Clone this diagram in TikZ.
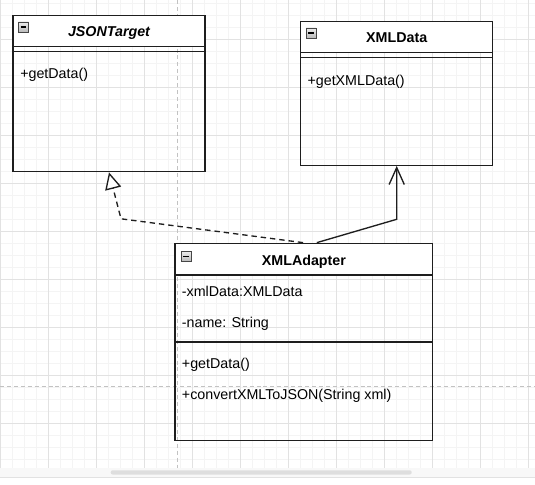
\documentclass[tikz,border=0pt]{standalone}
\usepackage{fontspec}
\setmainfont{Liberation Sans}
\usetikzlibrary{calc,arrows.meta}
\definecolor{gridminor}{HTML}{F4F4F4}
\definecolor{gridmajor}{HTML}{E2E2E2}
\definecolor{pageline}{HTML}{C2C2C2}
\definecolor{umlline}{HTML}{1E1E1E}
\definecolor{scrollbg}{HTML}{F8F8F8}
\definecolor{scrollthumb}{HTML}{DEDEDE}
\tikzset{
  umlbox/.style={draw=umlline, line width=1pt, inner sep=0pt, fill=none},
  sepline/.style={draw=umlline, line width=1pt},
  txt/.style={inner sep=0pt, anchor=base west, text=black},
  ttl/.style={inner sep=0pt, anchor=base, text=black, font=\fontsize{10.7}{12.8}\selectfont\bfseries},
  conn/.style={draw=umlline, line width=1pt},
  icon/.style={draw=gray!55!black, line width=0.5pt, top color=gray!15, bottom color=gray!55}
}
\begin{document}
\begin{tikzpicture}[x=0.75pt, y=-0.75pt, font=\fontsize{10.7}{12.8}\selectfont]
\useasboundingbox (0,0) rectangle (535,485);
\fill[white] (0,0) rectangle (535,485);
% grid
\foreach \k in {0,...,44} {
  \pgfmathsetmacro\gx{0.7+12*\k}
  \draw[gridminor, line width=0.75pt] (\gx,0) -- (\gx,468);
}
\foreach \k in {0,...,38} {
  \pgfmathsetmacro\gy{3.3+12*\k}
  \draw[gridminor, line width=0.75pt] (0,\gy) -- (535,\gy);
}
\foreach \k in {0,...,11} {
  \pgfmathsetmacro\gx{0.7+48*\k}
  \draw[gridmajor, line width=0.75pt] (\gx,0) -- (\gx,468);
}
\foreach \k in {0,...,9} {
  \pgfmathsetmacro\gy{39.3+48*\k}
  \draw[gridmajor, line width=0.75pt] (0,\gy) -- (535,\gy);
}
% page break lines
\draw[pageline, line width=0.75pt, dash pattern=on 3pt off 2.2pt] (177.6,0) -- (177.6,468);
\draw[pageline, line width=0.75pt, dash pattern=on 3pt off 2.2pt] (0,386) -- (535,386);
% scrollbar
\fill[scrollbg] (0,468) rectangle (535,477.2);
\fill[scrollthumb, rounded corners=1.5pt] (110.7,470.3) rectangle (411.7,474.5);
\draw[gridmajor, line width=0.75pt] (0,477.7) -- (535,477.7);

% header fills
\fill[white] (13,15.3) rectangle (205,46.7);
\fill[white] (300.7,21.7) rectangle (492.7,52.3);
\fill[white] (175,243.3) rectangle (432.7,275);

% boxes
\node[umlbox, minimum width=144pt, minimum height=117.3pt] (jsontarget) at (109,93.5) {};
\node[umlbox, minimum width=144pt, minimum height=107.7pt] (xmldata) at (396.7,93.5) {};
\node[umlbox, minimum width=193.3pt, minimum height=147.75pt] (adapter) at (303.85,341.8) {};

% separators
\draw[sepline] (13,46.7) -- (205,46.7);
\draw[sepline] (13,51.7) -- (205,51.7);
\draw[sepline] (300.7,52.3) -- (492.7,52.3);
\draw[sepline] (300.7,57.3) -- (492.7,57.3);
\draw[sepline] (175,275) -- (432.7,275);
\draw[sepline] (175,342) -- (432.7,342);

% icons
\foreach \ix/\iy in {18.5/22, 306/28, 181/251.5} {
  \draw[icon] (\ix,\iy) rectangle ++(10,10);
  \draw[black, line width=1.2pt] (\ix+2.2,\iy+5) -- (\ix+7.8,\iy+5);
}

% titles
\node[ttl, font=\fontsize{10.7}{12.8}\selectfont\bfseries\itshape] (jtTitle) at (109,36.8) {JSONTarget};
\node[ttl] (xdTitle) at (396.7,43) {XMLData};
\node[ttl] (adTitle) at (303.9,265.2) {XMLAdapter};

% members
\node[txt] (jtM1) at (20,78.8) {+getData()};
\node[txt] (xdM1) at (307.3,85.6) {+getXMLData()};
\node[txt] (adA1) at (181.7,296.5) {-xmlData:XMLData};
\node[txt] (adA2) at (181.7,327.5) {-name: String};
\node[txt] (adM1) at (181.7,368) {+getData()};
\node[txt] (adM2) at (181.7,399.5) {+convertXMLToJSON(String xml)};

% connectors
\coordinate (bendJ) at (121,218.8);
\coordinate (bendX) at (396.7,219.3);
\draw[conn, dash pattern=on 4pt off 3pt, -{Triangle[open, length=12.6pt, width=12.2pt, fill=white]}]
  ([xshift=-0.6pt]adapter.north) -- (bendJ) -- (jsontarget.south);
\draw[conn, -{Straight Barb[length=12.7pt, width=11.4pt]}]
  ($(adapter.north)+(13,0)$) -- (bendX) -- (xmldata.south);
\end{tikzpicture}
\end{document}
